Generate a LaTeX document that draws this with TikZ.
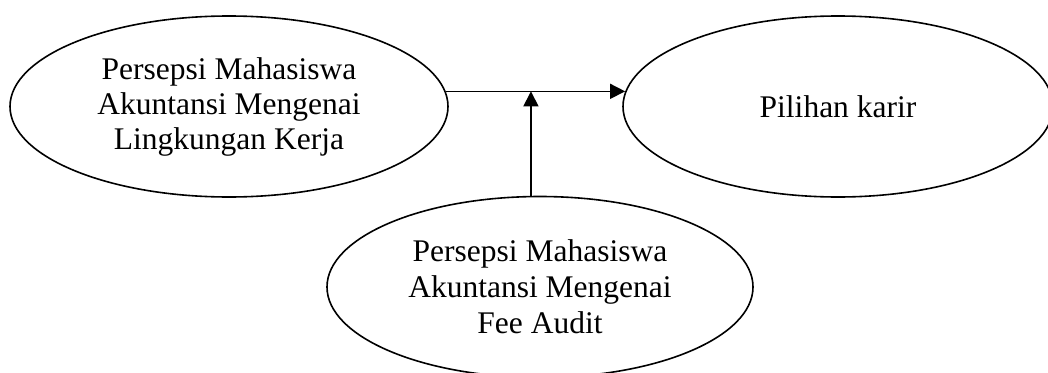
\documentclass[tikz,border=0pt]{standalone}
\usepackage{fontspec}
\setmainfont{Liberation Serif}
\usetikzlibrary{shapes.geometric,arrows.meta,calc}
\begin{document}
\begin{tikzpicture}[x=1pt,y=-1pt,
  oval/.style={draw=black,line width=1.6pt,ellipse,inner sep=0pt,align=center,
    font=\fontsize{31.5}{35}\selectfont},
  arr/.style={line width=1.6pt,-{Triangle[length=15pt,width=15pt]}}]
\useasboundingbox (0,0) rectangle (1048,372);
\clip (0,0) rectangle (1048,372);
\node[oval,minimum width=438pt,minimum height=181pt] (L) at (229,106.5)
  {Persepsi Mahasiswa\\Akuntansi Mengenai\\Lingkungan Kerja};
\node[oval,minimum width=430pt,minimum height=181pt] (R) at (838,106.5)
  {Pilihan karir};
\node[oval,minimum width=426pt,minimum height=181pt,
  font=\fontsize{31.5}{36}\selectfont] (B) at (540,287)
  {Persepsi Mahasiswa\\Akuntansi Mengenai\\Fee Audit};
\path (L.4) -- (R.176 |- L.4) coordinate[pos=0.475] (J);
\draw[arr] (L.4) -- (R.176 |- L.4);
\draw[arr] (J |- B.north) -- (J);
\end{tikzpicture}
\end{document}
